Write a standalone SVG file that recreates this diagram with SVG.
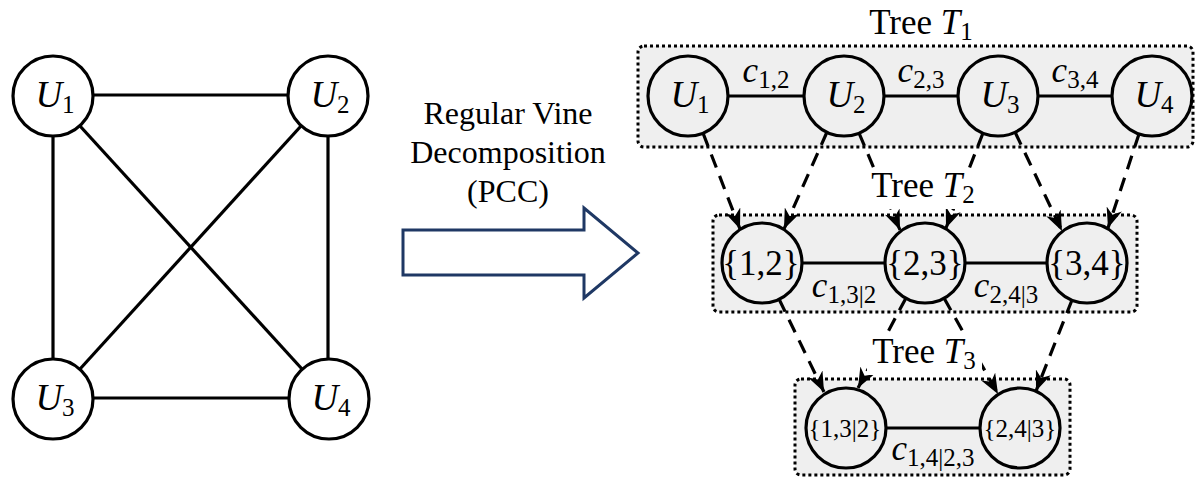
<svg xmlns="http://www.w3.org/2000/svg" width="1197" height="477" viewBox="0 0 1197 477">
  <style>
    .node { fill: #ffffff; stroke: #000000; stroke-width: 3.2; }
    .tnode { fill: #efefef; stroke: #000000; stroke-width: 3.2; }
    .edge { stroke: #000000; stroke-width: 3.2; fill: none; }
    .dash { stroke: #000000; stroke-width: 3.2; fill: none; stroke-dasharray: 14 9; }
    .box { fill: #efefef; stroke: #000000; stroke-width: 3; stroke-dasharray: 3 3; }
    .mi { font-family: "Liberation Serif", serif; font-style: italic; font-size: 37px; fill: #000; text-anchor: middle; }
    .ml { font-family: "Liberation Serif", serif; font-style: italic; font-size: 35px; fill: #000; text-anchor: middle; }
    .sub { font-style: normal; font-size: 25px; }
    .set { font-family: "Liberation Serif", serif; font-size: 35px; fill: #000; text-anchor: middle; }
    .set2 { font-family: "Liberation Serif", serif; font-size: 25px; fill: #000; text-anchor: middle; }
    .title { font-family: "Liberation Serif", serif; font-size: 35px; fill: #000; text-anchor: middle; }
    .cap { font-family: "Liberation Serif", serif; font-size: 32px; fill: #000; text-anchor: middle; }
    .mask { fill: #ffffff; stroke: none; }
  </style>
  <defs>
    <marker id="ah" viewBox="0 0 20 16" refX="20" refY="8" markerWidth="20" markerHeight="16" orient="auto" markerUnits="userSpaceOnUse">
      <path d="M0,0 L20,8 L0,16 L6,8 Z" fill="#000000"/>
    </marker>
  </defs>

  <!-- full graph on four variables -->
  <g id="graph-edges">
    <line class="edge" x1="93" y1="95" x2="288" y2="95"/>
    <line class="edge" x1="93" y1="398" x2="289" y2="398"/>
    <line class="edge" x1="53" y1="136" x2="53" y2="359"/>
    <line class="edge" x1="328" y1="136" x2="328" y2="359"/>
    <line class="edge" x1="80" y1="126" x2="302" y2="369"/>
    <line class="edge" x1="301" y1="126" x2="80" y2="369"/>
  </g>
  <g id="g-U1"><circle class="node" cx="53" cy="96" r="40"/><text class="mi" x="55" y="107">U<tspan class="sub" dy="6">1</tspan></text></g>
  <g id="g-U2"><circle class="node" cx="328" cy="96" r="40"/><text class="mi" x="330" y="107">U<tspan class="sub" dy="6">2</tspan></text></g>
  <g id="g-U3"><circle class="node" cx="53" cy="399" r="40"/><text class="mi" x="55" y="410">U<tspan class="sub" dy="6">3</tspan></text></g>
  <g id="g-U4"><circle class="node" cx="329" cy="399" r="40"/><text class="mi" x="331" y="410">U<tspan class="sub" dy="6">4</tspan></text></g>

  <!-- decomposition arrow -->
  <g id="decomp">
    <text class="cap" x="508" y="124">Regular Vine</text>
    <text class="cap" x="508" y="163">Decomposition</text>
    <text class="cap" x="508" y="202">(PCC)</text>
    <polygon points="403,230 584,230 584,208 638,253 584,298 584,275 403,275" fill="#ffffff" stroke="#1f3864" stroke-width="3" stroke-linejoin="miter"/>
  </g>

  <!-- tree frames -->
  <g id="tree1-frame">
    <rect class="box" x="638" y="46" width="555" height="101" rx="6"/>
    <text class="title" x="921" y="34">Tree <tspan font-style="italic">T</tspan><tspan class="sub" dy="6">1</tspan></text>
  </g>
  <g id="tree2-frame">
    <rect class="box" x="713" y="215" width="424" height="97" rx="6"/>
  </g>
  <g id="tree3-frame">
    <rect class="box" x="795" y="379" width="275" height="96" rx="6"/>
  </g>

  <!-- tree edges and dashed links between levels -->
  <g id="connectors">
    <line class="edge" x1="728" y1="96" x2="804" y2="96"/>
    <line class="edge" x1="884" y1="96" x2="958" y2="96"/>
    <line class="edge" x1="1038" y1="96" x2="1112" y2="96"/>
    <line class="edge" x1="802" y1="263" x2="885" y2="263"/>
    <line class="edge" x1="965" y1="263" x2="1047" y2="263"/>
    <line class="edge" x1="886" y1="428" x2="980" y2="428"/>

    <line class="dash" x1="703" y1="133" x2="740" y2="229" marker-end="url(#ah)"/>
    <line class="dash" x1="827" y1="132" x2="784" y2="229" marker-end="url(#ah)"/>
    <line class="dash" x1="859" y1="133" x2="900" y2="230" marker-end="url(#ah)"/>
    <line class="dash" x1="983" y1="133" x2="946" y2="228" marker-end="url(#ah)"/>
    <line class="dash" x1="1015" y1="132" x2="1062" y2="231" marker-end="url(#ah)"/>
    <line class="dash" x1="1139" y1="134" x2="1108" y2="228" marker-end="url(#ah)"/>

    <line class="dash" x1="779" y1="299" x2="824" y2="392" marker-end="url(#ah)"/>
    <line class="dash" x1="906" y1="298" x2="858" y2="388" marker-end="url(#ah)"/>
    <line class="dash" x1="944" y1="298" x2="998" y2="394" marker-end="url(#ah)"/>
    <line class="dash" x1="1072" y1="300" x2="1036" y2="391" marker-end="url(#ah)"/>
  </g>

  <!-- level titles sit on a white plate that hides the links behind them -->
  <g id="tree2-title">
    <rect class="mask" x="866" y="168" width="114" height="41"/>
    <text class="title" x="923" y="197">Tree <tspan font-style="italic">T</tspan><tspan class="sub" dy="6">2</tspan></text>
  </g>
  <g id="tree3-title">
    <rect class="mask" x="867" y="334" width="115" height="41"/>
    <text class="title" x="924" y="363">Tree <tspan font-style="italic">T</tspan><tspan class="sub" dy="6">3</tspan></text>
  </g>

  <!-- tree 1 nodes -->
  <g id="t1-U1"><circle class="tnode" cx="688" cy="96" r="40"/><text class="mi" x="690" y="107">U<tspan class="sub" dy="6">1</tspan></text></g>
  <g id="t1-U2"><circle class="tnode" cx="844" cy="96" r="40"/><text class="mi" x="846" y="107">U<tspan class="sub" dy="6">2</tspan></text></g>
  <g id="t1-U3"><circle class="tnode" cx="998" cy="96" r="40"/><text class="mi" x="1000" y="107">U<tspan class="sub" dy="6">3</tspan></text></g>
  <g id="t1-U4"><circle class="tnode" cx="1152" cy="96" r="40"/><text class="mi" x="1154" y="107">U<tspan class="sub" dy="6">4</tspan></text></g>
  <g id="t1-labels">
    <text class="ml" x="766" y="82">c<tspan class="sub" dy="6">1,2</tspan></text>
    <text class="ml" x="921" y="82">c<tspan class="sub" dy="6">2,3</tspan></text>
    <text class="ml" x="1075" y="82">c<tspan class="sub" dy="6">3,4</tspan></text>
  </g>

  <!-- tree 2 nodes -->
  <g id="t2-12"><circle class="tnode" cx="762" cy="263" r="40"/><text class="set" x="761" y="275">{1,2}</text></g>
  <g id="t2-23"><circle class="tnode" cx="925" cy="263" r="40"/><text class="set" x="925" y="275">{2,3}</text></g>
  <g id="t2-34"><circle class="tnode" cx="1087" cy="263" r="40"/><text class="set" x="1087" y="275">{3,4}</text></g>
  <g id="t2-labels">
    <text class="ml" x="844" y="297">c<tspan class="sub" dy="6">1,3|2</tspan></text>
    <text class="ml" x="1006" y="297">c<tspan class="sub" dy="6">2,4|3</tspan></text>
  </g>

  <!-- tree 3 nodes -->
  <g id="t3-132"><circle class="tnode" cx="846" cy="428" r="40"/><text class="set2" x="845" y="437">{1,3|2}</text></g>
  <g id="t3-243"><circle class="tnode" cx="1020" cy="428" r="40"/><text class="set2" x="1020" y="437">{2,4|3}</text></g>
  <g id="t3-labels">
    <text class="ml" x="933" y="460">c<tspan class="sub" dy="6">1,4|2,3</tspan></text>
  </g>
</svg>
